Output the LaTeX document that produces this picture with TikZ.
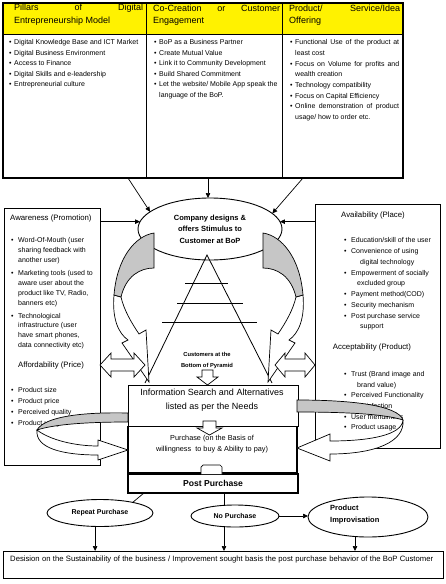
\documentclass[tikz,border=0pt]{standalone}
\usepackage{fontspec}
\setmainfont{Liberation Sans}
\usetikzlibrary{arrows.meta,shapes.geometric,calc}
\newcommand{\bu}{\makebox[5pt][l]{\textbullet}}
\newcommand{\bul}{\makebox[7pt][l]{\textbullet}}
\newcommand{\jl}[2]{\makebox[#1][s]{#2}}
\begin{document}
\begin{tikzpicture}[x=1pt,y=-1pt,
  box/.style={draw, line width=0.9pt, inner sep=0pt, outer sep=0pt, fill=white},
  hdr/.style={draw, line width=0.9pt, fill=yellow, inner sep=0pt, outer sep=0pt, anchor=north west},
  col/.style={draw, line width=0.9pt, inner sep=0pt, outer sep=0pt, anchor=north west},
  hd/.style={inner sep=0pt, anchor=west, font=\fontsize{9}{11}\selectfont},
  lst/.style={inner sep=0pt, anchor=north west, align=left, font=\fontsize{7}{10.5}\selectfont},
  ttl/.style={inner sep=0pt, font=\fontsize{7.8}{9}\selectfont},
  arr/.style={-{Triangle[length=5pt,width=4.5pt]}, line width=0.7pt},
  blk/.style={draw=black, line width=0.7pt, fill=white},
  gblk/.style={draw=black, line width=0.7pt, fill=gray!45},
  ell/.style={ellipse, draw, line width=0.9pt, inner sep=0pt, outer sep=0pt, fill=white}]
\useasboundingbox (0,0) rectangle (445,584);
\fill[white] (0,0) rectangle (445,584);

% ---------- top table ----------
\node[hdr, minimum width=143pt, minimum height=31pt] (h1) at (3,3) {};
\node[hdr, minimum width=136pt, minimum height=31pt] (h2) at (146,3) {};
\node[hdr, minimum width=121pt, minimum height=31pt] (h3) at (282,3) {};
\node[col, minimum width=143pt, minimum height=144pt] (b1) at (3,34) {};
\node[col, minimum width=136pt, minimum height=144pt] (b2) at (146,34) {};
\node[col, minimum width=121pt, minimum height=144pt] (b3) at (282,34) {};
\draw[line width=1.4pt] (h1.north west) rectangle (b3.south east);

\node[hd] (h1a) at (14,8) {\jl{129pt}{Pillars of Digital}};
\node[hd] (h1b) at (14,21) {Entrepreneurship Model};
\node[hd] (h2a) at (153,8) {\jl{127pt}{Co-Creation or Customer}};
\node[hd] (h2b) at (153,21) {Engagement};
\node[hd] (h3a) at (289,8) {\jl{111pt}{Product/ Service/Idea}};
\node[hd] (h3b) at (289,21) {Offering};

\node[lst] (l1) at (9,39.5) {\bu Digital Knowledge Base and ICT Market\\
\bu Digital Business Environment\\
\bu Access to Finance\\
\bu Digital Skills and e-leadership\\
\bu Entrepreneurial culture};
\node[lst] (l2) at (154,39.5) {\bu BoP as a Business Partner\\
\bu Create Mutual Value\\
\bu Link it to Community Development\\
\bu Build Shared Commitment\\
\bu Let the website/ Mobile App speak the\\
\hspace*{5pt}language of the BoP.};
\node[lst, font=\fontsize{7}{10.7}\selectfont] (l3) at (290,39.5) {\bu \jl{104pt}{Functional Use of the product at}\\
\hspace*{5pt}least cost\\
\bu \jl{104pt}{Focus on Volume for profits and}\\
\hspace*{5pt}wealth creation\\
\bu Technology compatibility\\
\bu Focus on Capital Efficiency\\
\bu \jl{104pt}{Online demonstration of product}\\
\hspace*{5pt}usage/ how to order etc.};

% ---------- side boxes ----------
\node[box, anchor=north west, minimum width=96pt, minimum height=257pt] (aware) at (4,208) {};
\node[box, anchor=north west, minimum width=125pt, minimum height=244pt] (avail) at (315,204) {};

\node[ttl, anchor=west] (awt) at (10,218) {Awareness (Promotion)};
\node[lst, font=\fontsize{7}{9.9}\selectfont] (awl) at (11,237.5) {\bul Word-Of-Mouth (user\\
\hspace*{7pt}sharing feedback with\\
\hspace*{7pt}another user)\\[3pt]
\bul Marketing tools (used to\\
\hspace*{7pt}aware user about the\\
\hspace*{7pt}product like TV, Radio,\\
\hspace*{7pt}banners etc)\\[3pt]
\bul Technological\\
\hspace*{7pt}infrastructure (user\\
\hspace*{7pt}have smart phones,\\
\hspace*{7pt}data connectivity etc)};
\node[ttl] (aft) at (51,365) {Affordability (Price)};
\node[lst, font=\fontsize{7}{11}\selectfont] (afl) at (11,387.5) {\bul Product size\\
\bul Product price\\
\bul Perceived quality\\
\bul Product usage};

\node[ttl] (avt) at (373,215) {Availability (Place)};
\node[lst, font=\fontsize{7}{10.75}\selectfont] (avl) at (344,237.5) {\bul Education/skill of the user\\
\bul Convenience of using\\
\hspace*{16pt}digital technology\\
\bul Empowerment of socially\\
\hspace*{13pt}excluded group\\
\bul Payment method(COD)\\
\bul Security mechanism\\
\bul Post purchase service\\
\hspace*{16pt}support};
\node[ttl] (act) at (372,347) {Acceptability (Product)};
\node[lst, font=\fontsize{7}{10.6}\selectfont] (acl) at (344,371.5) {\bul Trust (Brand image and\\
\hspace*{13pt}brand value)\\
\bul Perceived Functionality\\
\hspace*{13pt}satisfaction\\
\bul User friendliness\\
\bul Product usage};

% ---------- stimulus ellipse ----------
\node[ell, minimum width=144pt, minimum height=62pt, align=center,
  font=\bfseries\fontsize{7.5}{11.5}\selectfont] (stim) at (210,229)
  {Company designs \&\\offers Stimulus to\\Customer at BoP};

\coordinate (t1) at (128,178);
\coordinate (t2) at (208,178);
\coordinate (t3) at (303,178);
\draw[arr] (t1) -- (stim.164);
\draw[arr] (t2) -- (t2 |- stim.north);
\draw[arr] (t3) -- (stim.14);
\draw[arr] (aware.north east |- stim.174) -- (stim.174);
\draw[arr] (avail.north west |- stim.6) -- (stim.6);

% ---------- pyramid ----------
\draw[line width=0.8pt] (145,383) -- (207,255) -- (272,383);
\draw[line width=0.8pt] (185,283) -- (228,283);
\draw[line width=0.8pt] (177,303) -- (243,303);
\draw[line width=0.8pt] (162,322) -- (257,322);
\node[inner sep=0pt, align=center, font=\bfseries\fontsize{5.8}{11}\selectfont] (bop) at (207,360)
  {Customers at the\\Bottom of Pyramid};

% ---------- top curved arrows ----------
\path[blk] (114,295) .. controls (112,318) and (118,333) .. (128,340) -- (122,343) -- (149,382)
  -- (146,330) -- (139,334) .. controls (131,322) and (124,310) .. (121,297) -- cycle;
\path[gblk] (154,233) .. controls (135,236) and (117,258) .. (114,295) -- (121,297)
  .. controls (126,276) and (140,268) .. (154,268) -- cycle;
\path[blk] (303,295) .. controls (305,318) and (299,333) .. (289,340) -- (295,343) -- (268,382)
  -- (271,330) -- (278,334) .. controls (286,322) and (293,310) .. (296,297) -- cycle;
\path[gblk] (263,233) .. controls (282,236) and (300,258) .. (303,295) -- (296,297)
  .. controls (291,276) and (277,268) .. (263,268) -- cycle;

% ---------- double arrows ----------
\path[blk] (100,365) -- (111,353) -- (111,359) -- (134,359) -- (134,353) -- (145,365)
  -- (134,377) -- (134,371) -- (111,371) -- (111,377) -- cycle;
\path[blk] (275,365) -- (285,353) -- (285,359) -- (305,359) -- (305,353) -- (315,365)
  -- (305,377) -- (305,371) -- (285,371) -- (285,377) -- cycle;

% ---------- process boxes ----------
\node[box, anchor=north west, minimum width=170pt, minimum height=41pt] (info) at (128,385) {};
\node[box, line width=1.3pt, anchor=north west, minimum width=169pt, minimum height=46pt] (purch) at (128,426.5) {};
\node[box, line width=1.1pt, anchor=north west, minimum width=170pt, minimum height=19pt] (post) at (128,474) {};
\node[inner sep=0pt, align=center, font=\fontsize{9}{13.5}\selectfont] (infot) at (212,400)
  {Information Search and Alternatives\\listed as per the Needs};
\node[inner sep=0pt, align=center, font=\fontsize{7.3}{11}\selectfont] (purt) at (212,444.5)
  {Purchase (on the Basis of\\willingness\ \ to buy \& Ability to pay)};
\node[inner sep=0pt, font=\bfseries\fontsize{8.6}{10}\selectfont] (postt) at (213,483.5) {Post Purchase};

% small block arrows
\path[blk] (202,370) -- (213,370) -- (213,377) -- (218,377) -- (207.5,385) -- (197,377) -- (202,377) -- cycle;
\path[blk] (203,421) -- (216,421) -- (216,428) -- (222,428) -- (209.5,435) -- (197,428) -- (203,428) -- cycle;
\path[blk] (201,474) -- (201,467) -- (203,465) -- (220,465) -- (222,467) -- (222,474);

% ---------- bottom curved arrows ----------
\path[blk] (37,430) .. controls (50,440) and (75,446) .. (98,446) -- (98,440) -- (128,450)
  -- (98,460) -- (98,455) .. controls (62,455) and (35,448) .. (37,430) -- cycle;
\path[gblk] (128,413) .. controls (85,412) and (45,416) .. (37,430)
  .. controls (55,424) and (90,422) .. (128,422) -- cycle;
\path[blk] (403,420) .. controls (402,435) and (370,441) .. (330,441) -- (330,434) -- (297,448)
  -- (330,461) -- (330,454) .. controls (375,454) and (405,442) .. (403,420) -- cycle;
\path[gblk] (297,400) .. controls (350,400) and (398,405) .. (403,420)
  .. controls (385,414) and (345,412) .. (297,412) -- cycle;

% ---------- outcomes ----------
\node[ell, minimum width=106pt, minimum height=27pt, font=\bfseries\fontsize{7}{9}\selectfont] (rep) at (100,513) {Repeat Purchase};
\node[ell, minimum width=88pt, minimum height=22pt, font=\bfseries\fontsize{7}{9}\selectfont] (nop) at (235,516) {No Purchase};
\node[ell, minimum width=120pt, minimum height=40pt] (impr) at (368,517) {};
\node[inner sep=0pt, anchor=west, align=left, font=\bfseries\fontsize{7.5}{12.5}\selectfont] (imprt) at (330,514.5) {Product\\Improvisation};

\node[box, anchor=north west, minimum width=440pt, minimum height=27pt] (bottom) at (3,551) {};
\node[inner sep=0pt, anchor=west, font=\fontsize{7.7}{9}\selectfont] (bott) at (10,560)
  {\makebox[423pt][s]{Desision on the Sustainability of the business / Improvement sought basis the post purchase behavior of the BoP Customer}};

\coordinate (pr) at (144,493);
\coordinate (pn) at (224,493);
\coordinate (ix) at (355,540);
\draw[line width=0.7pt] (pr) -- (rep.18);
\draw[line width=0.7pt] (pn) -- (pn |- nop.north);
\draw[arr] (nop.east) -- (nop.east -| impr.west);
\draw[arr] (rep.250) -- (rep.250 |- bottom.north);
\draw[arr] (pn |- nop.south) -- (pn |- bottom.north);
\draw[arr] (impr.south -| ix) -- (ix |- bottom.north);
\end{tikzpicture}
\end{document}
